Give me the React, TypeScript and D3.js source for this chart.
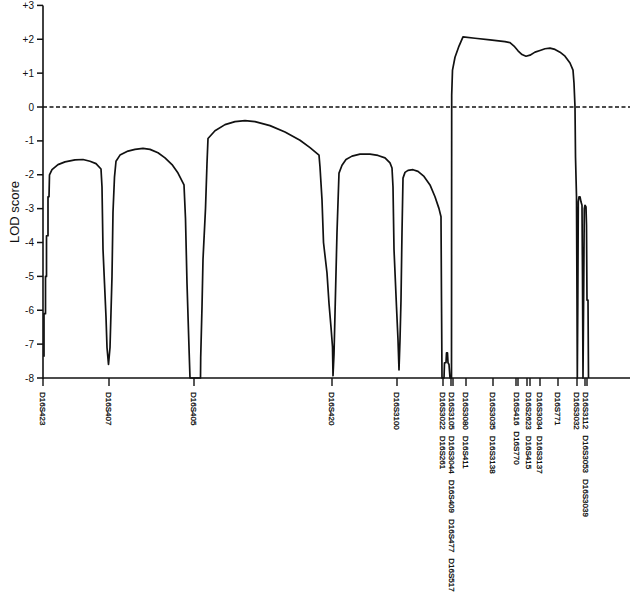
import React from 'react';
import * as d3 from 'd3';

// ---- data ----
const yTickValues = [3, 2, 1, 0, -1, -2, -3, -4, -5, -6, -7, -8];
const yTickLabels = ['+3', '+2', '+1', '0', '-1', '-2', '-3', '-4', '-5', '-6', '-7', '-8'];

// marker positions (map units)
const markerPositions = [0, 13.2, 30.2, 57.8, 70.8, 80.0, 81.6, 82.0, 84.6, 90.0, 94.6, 95.0, 96.8, 97.4, 99.4, 103.0, 106.8, 108.4, 108.8];

// label columns under the axis
const labelPositions = [0, 13.2, 30.2, 57.8, 70.8, 80.0, 81.8, 84.6, 90.0, 94.8, 97.1, 99.4, 103.0, 106.8, 108.6];
const labelNames: string[][] = [
  ['D16S423'],
  ['D16S407'],
  ['D16S405'],
  ['D16S420'],
  ['D16S3100'],
  ['D16S3022', 'D16S261'],
  ['D16S3105', 'D16S3044', 'D16S409', 'D16S477', 'D16S517'],
  ['D16S3080', 'D16S411'],
  ['D16S3035', 'D16S3138'],
  ['D16S416', 'D16S770'],
  ['D16S2623', 'D16S415'],
  ['D16S3034', 'D16S3137'],
  ['D16S771'],
  ['D16S3032'],
  ['D16S3112', 'D16S3053', 'D16S3039'],
];

// LOD curve
const curvePos = [
  0.2, 0.2, 0.5, 0.5, 0.7, 0.7, 1.0, 1.0, 1.2, 1.3,
  1.8, 3.0, 4.4, 6.4, 8.0, 9.4, 10.6, 11.6, 11.8, 12.0,
  12.3, 12.6, 12.8, 13.1, 13.4, 13.6, 13.8, 14.0, 14.3, 14.6,
  15.4, 17.0, 18.4, 20.0, 21.4, 23.0, 24.4, 25.8, 27.0, 28.2,
  28.5, 28.8, 29.2, 29.4, 31.5, 31.54, 31.8, 32.0, 32.5, 32.8,
  33.0, 34.4, 36.4, 38.4, 40.4, 42.4, 45.4, 48.4, 51.4, 53.4,
  55.2, 55.4, 55.8, 56.1, 56.8, 57.2, 57.6, 57.9, 58.0, 58.2,
  58.4, 58.8, 59.2, 59.8, 60.6, 61.8, 63.4, 65.4, 67.0, 68.4,
  69.4, 69.8, 70.0, 70.2, 70.7, 71.0, 71.2, 71.4, 71.6, 71.8,
  72.0, 72.4, 73.0, 74.0, 75.0, 76.2, 77.4, 78.4, 79.2, 79.6,
  79.7, 79.8, 80.2, 80.3, 80.6, 80.7, 80.9, 81.0, 81.2, 81.4,
  81.7, 81.74, 81.9, 82.4, 83.2, 84.0, 86.4, 89.4, 92.4, 93.4,
  94.2, 95.0, 95.8, 96.6, 97.4, 98.4, 99.4, 100.4, 101.4, 102.4,
  103.4, 104.4, 105.4, 106.0, 106.2, 106.4, 106.5, 106.7, 106.8, 106.86,
  106.96, 107.06, 107.2, 107.4, 107.6, 107.8, 107.9, 108.0, 108.16, 108.26,
  108.4, 108.6, 108.7, 108.8, 109.0, 109.1,
];
const curveLod = [
  -7.37, -6.1, -6.1, -5.0, -5.0, -3.8, -3.8, -2.65, -2.65, -2.0,
  -1.85, -1.7, -1.62, -1.56, -1.55, -1.6, -1.67, -1.83, -2.36, -4.2,
  -5.2, -6.2, -7.1, -7.6, -7.1, -6.05, -5.0, -3.1, -2.06, -1.6,
  -1.42, -1.3, -1.25, -1.22, -1.25, -1.35, -1.5, -1.7, -1.95, -2.3,
  -3.3, -5.2, -7.1, -8.0, -8.0, -7.4, -5.9, -4.5, -3.0, -1.66,
  -0.93, -0.7, -0.52, -0.43, -0.4, -0.43, -0.55, -0.74, -0.98, -1.2,
  -1.42, -1.77, -2.74, -4.0, -4.9, -5.8, -6.5, -7.08, -7.93, -7.3,
  -6.1, -3.7, -1.95, -1.72, -1.55, -1.45, -1.39, -1.39, -1.43, -1.5,
  -1.65, -1.8, -2.36, -4.2, -5.9, -6.87, -7.76, -6.87, -5.7, -3.7,
  -2.1, -1.93, -1.87, -1.85, -1.9, -2.05, -2.3, -2.65, -3.0, -3.24,
  -5.7, -8.0, -8.0, -7.55, -7.55, -7.26, -7.26, -7.55, -7.6, -8.0,
  -8.0, 0.35, 1.09, 1.47, 1.8, 2.07, 2.03, 1.98, 1.93, 1.9,
  1.8, 1.66, 1.55, 1.5, 1.53, 1.62, 1.67, 1.72, 1.74, 1.7,
  1.62, 1.5, 1.3, 1.09, 0.7, 0.0, -1.47, -2.65, -5.7, -8.0,
  -5.8, -2.8, -2.65, -2.65, -2.8, -2.9, -5.0, -8.0, -5.0, -3.0,
  -2.9, -2.95, -3.5, -5.7, -5.7, -8.0,
];

// ---- layout ----
const W = 634;
const H = 595;
const font = "'Liberation Sans', Arial, Helvetica, sans-serif";

export default function App() {
  const x = d3.scaleLinear().domain([0, 117.4]).range([43, 630]);
  const y = d3.scaleLinear().domain([-8, 3]).range([378, 5.4]);

  const pts: [number, number][] = curvePos.map((p, i) => [p, curveLod[i]]);
  const line = d3
    .line<[number, number]>()
    .x((d) => x(d[0]))
    .y((d) => y(d[1]))
    .curve(d3.curveLinear);

  const x0 = x(0);
  const xEnd = x(117.4);
  const yBottom = y(-8);
  const labelTop = yBottom + 14;

  return (
    <svg
      width={W}
      height={H}
      style={{ position: 'absolute', left: 0, top: 0, background: '#fff', fontFamily: font }}
    >
      <rect x={0} y={0} width={W} height={H} fill="#fff" />
      {/* zero dashed line */}
      <line
        x1={x0}
        x2={xEnd}
        y1={y(0)}
        y2={y(0)}
        stroke="#111"
        strokeWidth={1.5}
        strokeDasharray="4,2.5"
      />
      {/* curve */}
      <path d={line(pts) || ''} fill="none" stroke="#111" strokeWidth={1.7} strokeLinejoin="round" />
      {/* y axis */}
      <line x1={x0} x2={x0} y1={y(3)} y2={yBottom + 1} stroke="#111" strokeWidth={1.6} />
      {yTickValues.map((v, i) => (
        <g key={v}>
          <line x1={x0 - 6} x2={x0} y1={y(v)} y2={y(v)} stroke="#111" strokeWidth={1.5} />
          <text
            x={x0 - 9}
            y={y(v)}
            dy="0.35em"
            textAnchor="end"
            fontSize={10}
            fill="#111"
            style={{ fontFamily: font }}
          >
            {yTickLabels[i]}
          </text>
        </g>
      ))}
      <text
        transform={`translate(19, ${y(-3.1)}) rotate(-90)`}
        textAnchor="middle"
        fontSize={13}
        fill="#111"
        style={{ fontFamily: font }}
      >
        LOD score
      </text>
      {/* x axis */}
      <line x1={x0} x2={xEnd} y1={yBottom} y2={yBottom} stroke="#111" strokeWidth={1.6} />
      {markerPositions.map((p, i) => (
        <line
          key={i}
          x1={x(p)}
          x2={x(p)}
          y1={yBottom}
          y2={yBottom + 8}
          stroke="#111"
          strokeWidth={1.4}
        />
      ))}
      {labelPositions.map((p, i) => (
        <text
          key={i}
          transform={`translate(${x(p)}, ${labelTop}) rotate(90)`}
          dy="0.35em"
          fontSize={8}
          fill="#000"
          stroke="#000"
          strokeWidth={0.25}
          style={{ fontFamily: font }}
        >
          {labelNames[i].map((n, j) => (
            <tspan key={j} dx={j === 0 ? 0 : 6}>
              {n}
            </tspan>
          ))}
        </text>
      ))}
    </svg>
  );
}
